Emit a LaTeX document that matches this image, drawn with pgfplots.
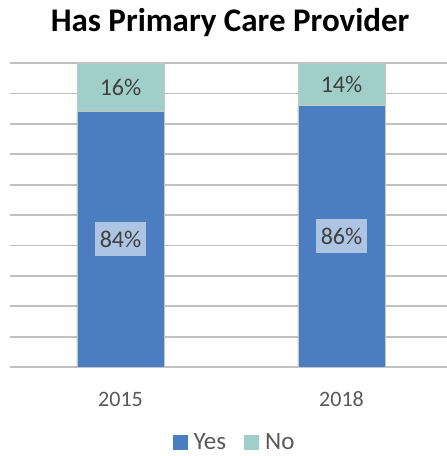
\documentclass[border=0pt]{standalone}
\usepackage{pgfplots}
\pgfplotsset{compat=1.18}
\usepackage{fontspec}
\setmainfont{Carlito}
\definecolor{yesblue}{HTML}{4A7EC0}
\definecolor{noteal}{HTML}{A0CFCA}
\definecolor{gridgray}{HTML}{C0C0C0}
\definecolor{txt}{HTML}{404040}
\definecolor{ticktxt}{HTML}{595959}
\begin{document}
\begin{tikzpicture}[x=1pt,y=1pt]
\useasboundingbox (0,0) rectangle (447,456);
\begin{axis}[
  at={(10pt,89pt)}, anchor=south west,
  scale only axis, width=442pt, height=304pt,
  xmin=-0.5, xmax=1.5, ymin=0, ymax=100,
  axis line style={draw=none},
  ytick={0,10,...,100}, yticklabels={}, major tick length=0pt,
  ymajorgrids, grid style={gridgray, line width=1.8pt},
  xtick={0,1}, xticklabels={2015,2018},
  xticklabel style={font=\fontsize{22}{24}\selectfont, text=ticktxt, anchor=center, yshift=-32pt},
  ybar stacked, bar width=87pt,
  title={Has Primary Care Provider},
  title style={font=\fontsize{33}{36}\selectfont\bfseries, at={(0.498,1.113)}, anchor=center},
  legend style={at={(0.508,-0.249)}, anchor=center, draw=none, fill=none,
    legend columns=2, font=\fontsize{25}{27}\selectfont, text=ticktxt,
    nodes={inner ysep=0pt},
    /tikz/every odd column/.append style={column sep=4pt},
    /tikz/every even column/.append style={column sep=16pt}},
  legend image code/.code={\fill[#1, draw=none] (0pt,-7.5pt) rectangle (15pt,7.5pt);},
  nodes near coords,
  point meta=explicit symbolic,
  nodes near coords style={anchor=center, font=\fontsize{24}{26}\selectfont, text=txt},
  clip=false,
]
\addplot[fill=yesblue, draw=gray!45, line width=0.6pt,
  nodes near coords style={fill=white, fill opacity=0.55, text opacity=1,
    minimum width=51pt, minimum height=34pt, inner sep=0pt}]
  coordinates {(0,84) [84\%] (1,86) [86\%]};
\addplot[fill=noteal, draw=gray!45, line width=0.6pt]
  coordinates {(0,16) [16\%] (1,14) [14\%]};
\legend{Yes,No}
\end{axis}
\end{tikzpicture}
\end{document}
